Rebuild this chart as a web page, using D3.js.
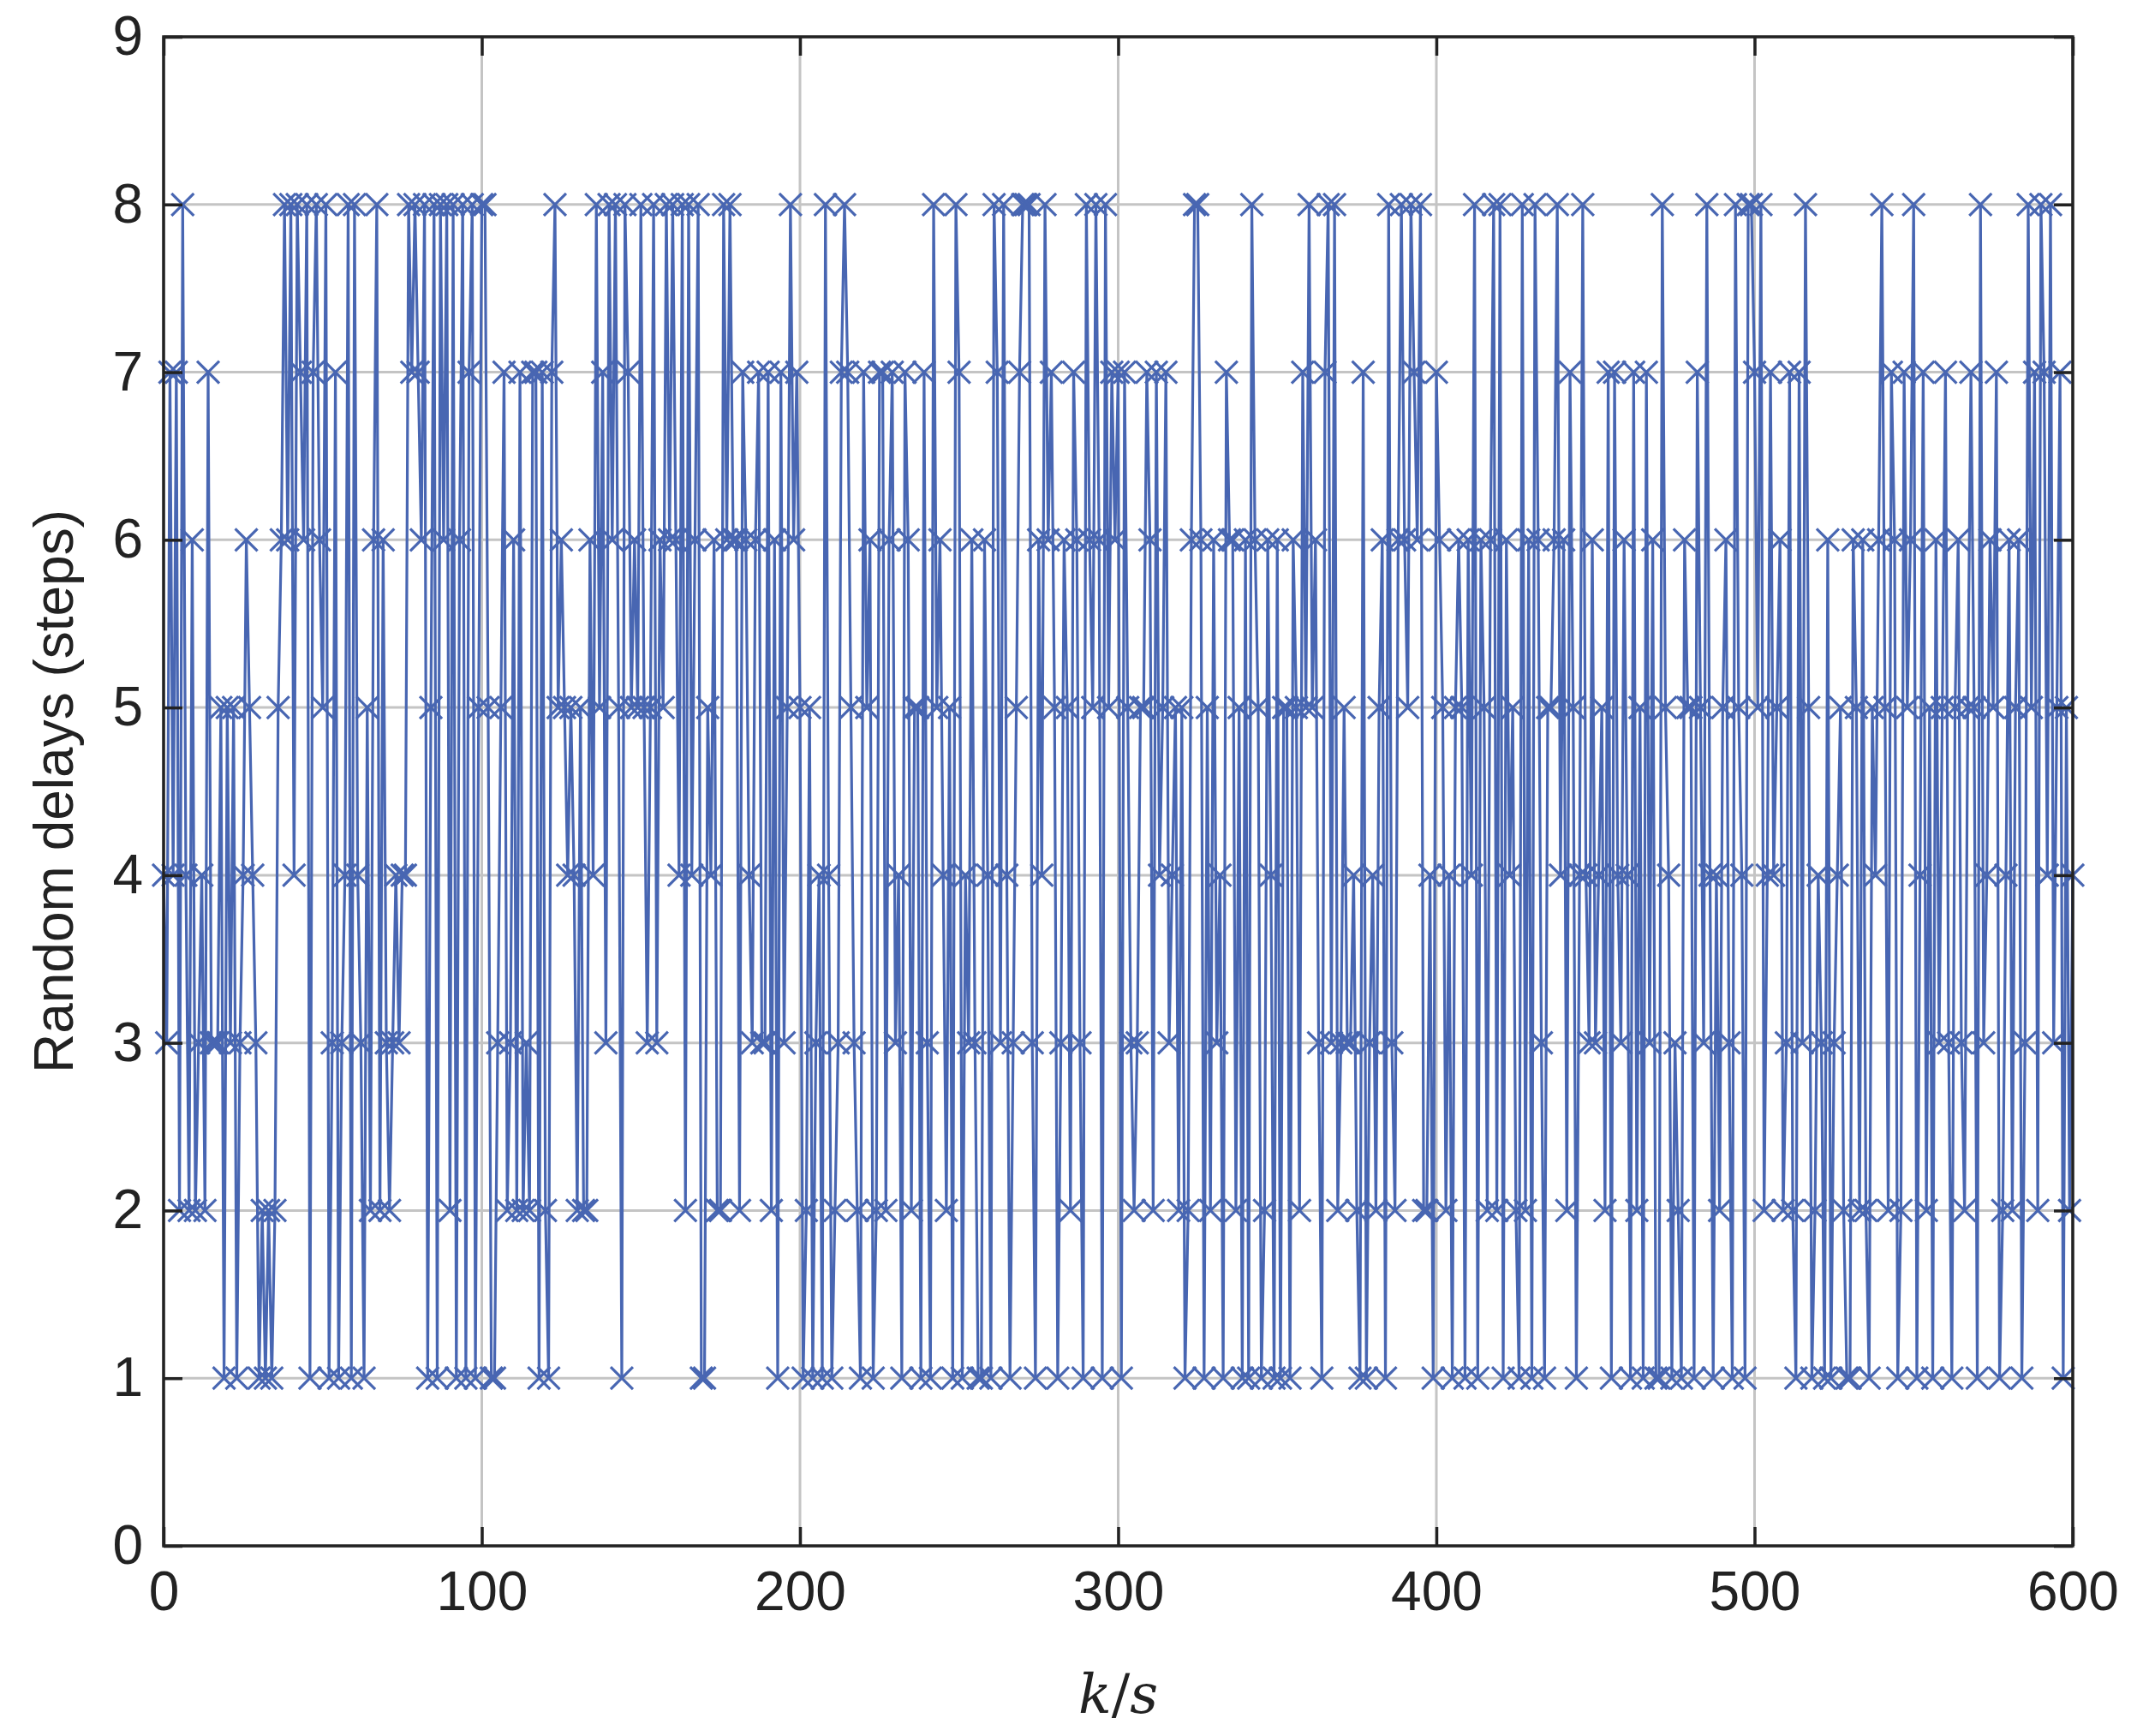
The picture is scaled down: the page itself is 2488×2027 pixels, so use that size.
<!DOCTYPE html>
<html><head><meta charset="utf-8">
<script src="https://cdn.jsdelivr.net/npm/d3@7"></script>
<style>body{margin:0;background:#fff}</style></head>
<body><svg id="c" width="2488" height="2027"></svg>
<script>
const delays = [4,3,7,4,7,2,8,4,2,6,2,3,4,2,7,3,3,3,5,1,
5,3,5,1,3,4,6,5,4,3,1,2,1,2,1,2,5,6,8,6,
8,4,8,7,6,8,1,7,8,6,5,8,1,3,7,1,3,4,8,1,
8,4,3,1,5,2,6,8,2,6,3,2,3,4,3,4,4,8,7,8,
7,6,8,1,5,8,1,8,6,8,2,8,1,6,8,1,7,8,1,5,
8,8,5,1,1,3,5,7,2,3,6,2,7,2,3,2,7,7,1,7,
2,1,7,8,5,6,5,4,5,4,2,5,2,2,6,4,8,5,7,3,
8,6,8,5,1,8,7,5,6,5,8,5,3,5,8,3,6,5,8,6,
8,6,4,8,2,8,4,6,8,1,1,5,4,6,2,2,8,6,8,6,
6,2,7,6,4,3,6,7,3,3,7,2,6,1,7,3,5,8,6,7,
5,1,2,5,1,3,4,1,8,4,1,2,3,7,8,7,5,3,2,1,
7,5,6,1,2,7,7,2,6,7,3,4,1,7,6,2,5,5,1,7,
3,1,8,5,6,4,2,5,1,8,7,1,4,3,6,3,1,1,6,4,
1,8,7,3,8,4,1,3,5,7,8,8,8,3,1,6,4,8,6,7,
5,1,3,6,5,2,7,6,3,1,8,6,5,8,6,1,8,5,7,6,
7,1,7,5,3,2,3,5,5,7,6,2,7,4,5,7,3,4,5,2,
5,1,2,6,8,8,6,1,5,2,6,3,4,1,7,6,6,2,5,1,
6,1,8,6,5,1,2,6,4,1,6,1,5,5,1,6,5,2,7,5,
8,5,6,3,1,7,8,3,8,2,3,5,3,3,4,2,1,7,1,3,
4,2,5,6,1,8,3,2,6,8,6,5,8,7,6,8,2,2,4,1,
7,6,5,2,4,1,5,6,5,1,6,4,8,1,6,5,2,6,8,2,
8,1,6,4,5,2,1,8,2,6,1,8,6,3,1,5,5,6,8,4,
6,2,7,5,1,4,8,4,3,6,3,4,5,2,7,1,7,4,3,6,
4,1,7,2,5,1,7,3,6,1,1,8,5,4,1,3,2,1,6,5,
5,1,7,5,3,8,4,1,4,2,5,6,3,1,8,5,4,1,8,8,
7,5,8,2,4,7,4,5,6,2,3,7,2,1,7,3,8,5,1,2,
4,3,1,6,1,3,4,5,2,1,1,6,5,2,6,2,1,5,4,6,
8,5,2,7,6,1,2,7,5,6,8,1,4,7,2,5,1,6,3,5,
7,3,1,5,6,3,2,5,7,5,1,8,3,4,6,5,7,1,2,4,
6,2,5,6,1,3,8,5,7,2,8,7,4,8,3,5,7,1,5,2,
4];
const xTicks = [0,100,200,300,400,500,600];
const yTicks = [0,1,2,3,4,5,6,7,8,9];

const svg = d3.select("#c");
const L=191,R=2420,T=43,B=1805;
const x = d3.scaleLinear().domain([0,600]).range([L,R]);
const y = d3.scaleLinear().domain([0,9]).range([B,T]);
const col = "#4866b2";

const g = svg.append("g");
g.selectAll(".gx").data(xTicks).join("line").attr("x1",d=>x(d)).attr("x2",d=>x(d)).attr("y1",T).attr("y2",B).attr("stroke","#c4c4c4").attr("stroke-width",3);
g.selectAll(".gy").data(yTicks).join("line").attr("y1",d=>y(d)).attr("y2",d=>y(d)).attr("x1",L).attr("x2",R).attr("stroke","#c4c4c4").attr("stroke-width",3);

const line = d3.line().x((d,i)=>x(i)).y(d=>y(d));
svg.append("path").datum(delays).attr("d",line).attr("fill","none").attr("stroke",col).attr("stroke-width",3.2);
const m=13;
svg.append("g").selectAll("path").data(delays).join("path")
 .attr("d",(d,i)=>{const cx=x(i),cy=y(d);return `M${cx-m},${cy-m}L${cx+m},${cy+m}M${cx-m},${cy+m}L${cx+m},${cy-m}`;})
 .attr("stroke",col).attr("stroke-width",3.2);

const font="'Liberation Sans', Arial, sans-serif";
const ax=d3.axisBottom(x).tickValues(xTicks).tickSize(-22).tickPadding(30);
const ay=d3.axisLeft(y).tickValues(yTicks).tickSize(-22).tickPadding(24);
const axt=d3.axisTop(x).tickValues(xTicks).tickSize(-22).tickFormat("");
const ayr=d3.axisRight(y).tickValues(yTicks).tickSize(-22).tickFormat("");
[[ax,`translate(0,${B})`],[ay,`translate(${L},0)`],[axt,`translate(0,${T})`],[ayr,`translate(${R},0)`]].forEach(([a,t])=>{
 const s=svg.append("g").attr("transform",t).call(a);
 s.select(".domain").remove();
 s.selectAll("line").attr("stroke","#222").attr("stroke-width",3.5);
 s.selectAll("text").attr("font-family",font).attr("font-size",64).attr("fill","#222");
});
svg.append("rect").attr("x",L).attr("y",T).attr("width",R-L).attr("height",B-T).attr("fill","none").attr("stroke","#222").attr("stroke-width",3.5);

svg.append("text").attr("transform",`translate(85,${(T+B)/2}) rotate(-90)`).attr("text-anchor","middle")
 .attr("font-family",font).attr("font-size",64).attr("fill","#222").text("Random delays (steps)");
const xl=svg.append("text").attr("x",(L+R)/2).attr("y",2000).attr("text-anchor","middle")
 .attr("font-family","'DejaVu Serif','Liberation Serif',serif").attr("font-size",64).attr("fill","#222");
xl.append("tspan").attr("font-style","italic").text("k");
xl.append("tspan").text("/");
xl.append("tspan").attr("font-style","italic").text("s");
</script></body></html>
